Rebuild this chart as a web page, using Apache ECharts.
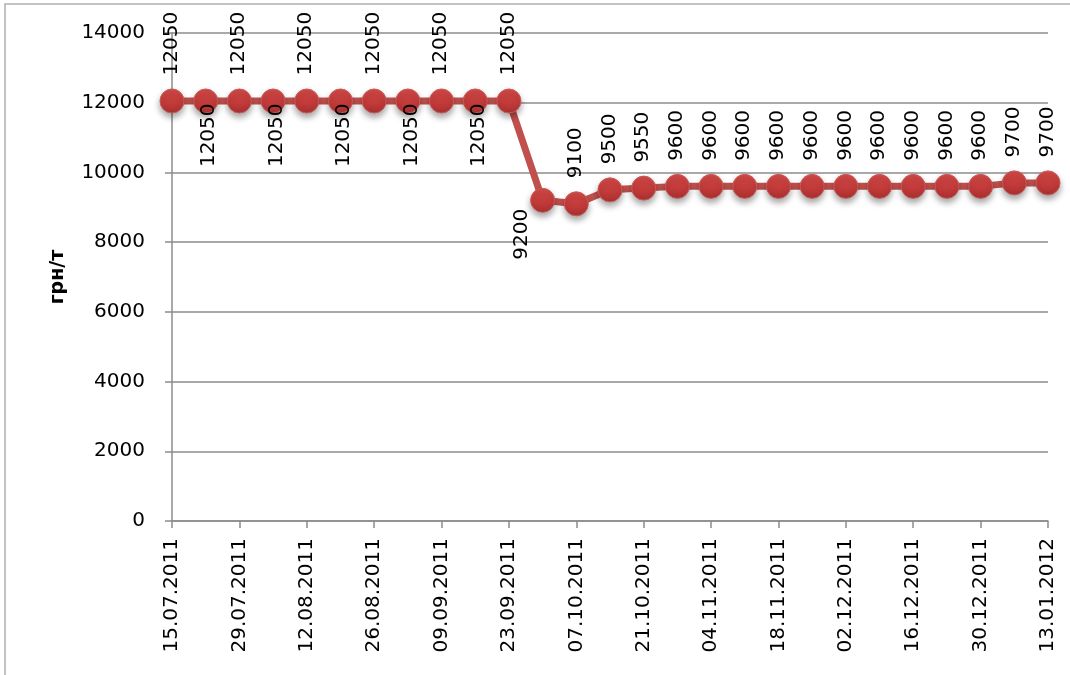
<!DOCTYPE html>
<html>
<head>
<meta charset="utf-8">
<script src="https://cdn.jsdelivr.net/npm/echarts@6/dist/echarts.min.js"></script>
<style>html,body{margin:0;padding:0;background:#fff}#c{width:1070px;height:675px}</style>
</head>
<body>
<div id="c"></div>
<script>
var categories = ['15.07.2011','22.07.2011','29.07.2011','05.08.2011','12.08.2011','19.08.2011','26.08.2011','02.09.2011','09.09.2011','16.09.2011','23.09.2011','30.09.2011','07.10.2011','14.10.2011','21.10.2011','28.10.2011','04.11.2011','11.11.2011','18.11.2011','25.11.2011','02.12.2011','09.12.2011','16.12.2011','23.12.2011','30.12.2011','06.01.2012','13.01.2012'];
var prices = [12050,12050,12050,12050,12050,12050,12050,12050,12050,12050,12050,9200,9100,9500,9550,9600,9600,9600,9600,9600,9600,9600,9600,9600,9600,9700,9700];
var yTicks = [0,2000,4000,6000,8000,10000,12000,14000];
var yAxisName = 'грн/т';

var FONT = 'DejaVu Sans';
var R = 12;
var data = prices.map(function (v, i) {
  var lbl;
  if (i === 11) {
    lbl = { position: [R - 20, R + 9], align: 'right' };
  } else if (i < 11 && i % 2 === 1) {
    lbl = { position: [R + 4, R + 3], align: 'right' };
  } else {
    lbl = { position: [R, R - 25], align: 'left' };
  }
  return { value: v, label: lbl };
});

var chart = echarts.init(document.getElementById('c'));
chart.setOption({
  animation: false,
  backgroundColor: '#fff',
  graphic: [{ type: 'rect', shape: { x: 5, y: 4, width: 1100, height: 700 }, style: { fill: 'none', stroke: '#b0b0b0', lineWidth: 1.5 }, silent: true, z: -1 }],
  grid: { left: 172, right: 22, top: 33, bottom: 154 },
  xAxis: {
    type: 'category',
    data: categories,
    boundaryGap: false,
    axisLine: { lineStyle: { color: '#8c8c8c', width: 1.5 } },
    axisTick: { interval: 1, length: 7, lineStyle: { color: '#8c8c8c', width: 1.5 } },
    axisLabel: { interval: 1, rotate: 90, margin: 17, fontFamily: FONT, fontSize: 20, color: '#000' },
    splitLine: { show: false }
  },
  yAxis: {
    type: 'value',
    min: yTicks[0],
    max: yTicks[yTicks.length - 1],
    interval: 2000,
    name: yAxisName,
    nameLocation: 'middle',
    nameRotate: 90,
    nameGap: 104,
    nameTextStyle: { fontFamily: FONT, fontSize: 19, fontWeight: 'bold', color: '#000' },
    axisLine: { show: true, lineStyle: { color: '#8c8c8c', width: 1.5 } },
    axisTick: { show: true, length: 7, lineStyle: { color: '#8c8c8c', width: 1.5 } },
    axisLabel: { margin: 27, fontFamily: FONT, fontSize: 20, color: '#000', formatter: function (v) { return String(v); } },
    splitLine: { lineStyle: { color: '#8c8c8c', width: 1.5 } }
  },
  series: [{
    type: 'line',
    data: data,
    symbol: 'circle',
    symbolSize: 2 * R,
    showSymbol: true,
    showAllSymbol: true,
    lineStyle: { color: '#c0504d', width: 7 },
    itemStyle: {
      color: new echarts.graphic.LinearGradient(0, 0, 0, 1, [
        { offset: 0, color: '#d24a48' },
        { offset: 0.6, color: '#c23a39' },
        { offset: 1, color: '#a53030' }
      ]),
      borderColor: '#c85a58',
      borderWidth: 1,
      shadowBlur: 6,
      shadowOffsetY: 4,
      shadowColor: 'rgba(0,0,0,0.35)'
    },
    label: {
      show: true,
      rotate: 90,
      verticalAlign: 'middle',
      fontFamily: FONT,
      fontSize: 20,
      color: '#000'
    },
    labelLayout: { hideOverlap: false },
    z: 3
  }]
});
</script>
</body>
</html>
